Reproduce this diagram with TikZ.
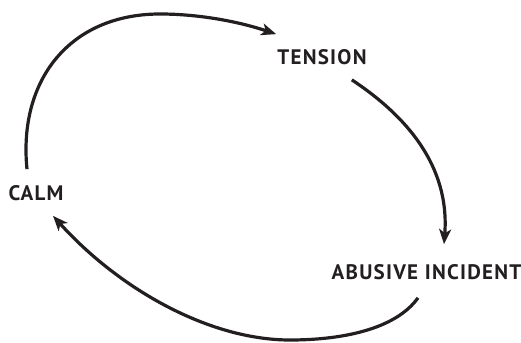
\documentclass[tikz,border=0pt]{standalone}
\usepackage{fontspec}
\setsansfont{PT Sans}[LetterSpace=6]
\usepackage{tikz}
\usetikzlibrary{calc}
\usetikzlibrary{arrows.meta}

\definecolor{ink}{RGB}{35,31,32}

\begin{document}
\begin{tikzpicture}[x=1pt,y=-1pt,
    lbl/.style={inner sep=0pt,text=ink,font=\sffamily\bfseries\fontsize{21}{23}\selectfont},
    cyc/.style={draw=ink,line width=3.2pt,-{Stealth[length=15pt,width=12pt,inset=4pt]}}]
    \useasboundingbox (0,0) rectangle (521,342);
    % stages of the cycle
    \node[lbl] (calm) at (36,193) {CALM};
    \node[lbl] (tension) at (322,57) {TENSION};
    \node[lbl] (abuse) at (426.5,272) {ABUSIVE INCIDENT};
    % arrows between stages
    \draw[cyc] ($(calm.north)+(-9,-16)$) .. controls (18,80) and (70,14) .. (160,14)
      .. controls (200,14) and (240,22) .. ($(tension.north west)+(-1,-15)$);
    \draw[cyc] ($(tension.south east)+(-15,15)$) .. controls (405,115) and (450,165)
      .. ($(abuse.north)+(17.5,-20)$);
    \draw[cyc] ($(abuse.south)+(-8.5,18)$) .. controls (395,330) and (340,340) .. (290,340)
      .. controls (210,340) and (120,290) .. ($(calm.south)+(17,15)$);
\end{tikzpicture}
\end{document}
